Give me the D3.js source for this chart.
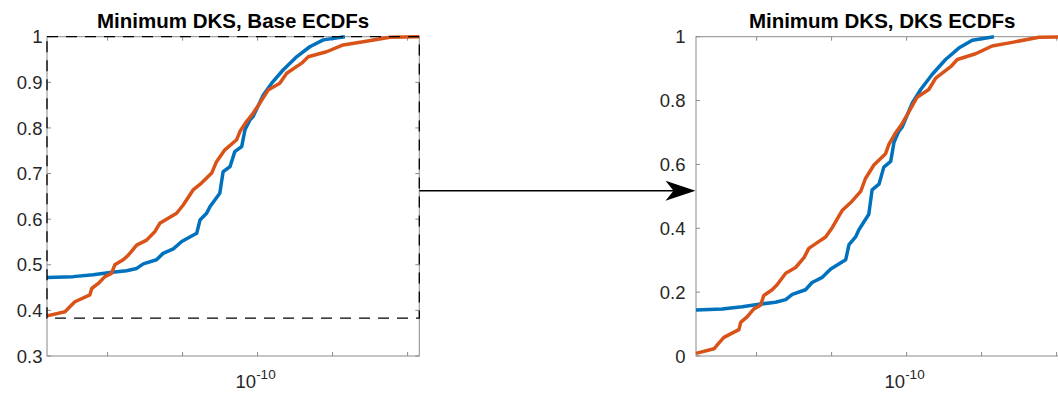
<!DOCTYPE html>
<html>
<head>
<meta charset="utf-8">
<script src="https://cdn.jsdelivr.net/npm/d3@7"></script>
<style>
  body { margin: 0; background: #fff; }
  svg text { font-family: "Liberation Sans", Arial, Helvetica, sans-serif; fill: #262626; }
  .title { font-weight: bold; fill: #000; }
</style>
</head>
<body>
<div id="chart"></div>
<script>
// ECDFs of the minimum DKS statistic, base values
// x is stored as log10 of the statistic
var blueLogX = [-10.702, -10.615, -10.548, -10.492, -10.437, -10.403, -10.381, -10.337,
                -10.315, -10.281, -10.253, -10.203, -10.192, -10.170, -10.159, -10.126,
                -10.115, -10.092, -10.076, -10.053, -10.042, -10.026, -10.015, -9.981,
                -9.953, -9.915, -9.870, -9.826, -9.781, -9.709];
var blueY = [0.472, 0.474, 0.478, 0.483, 0.487, 0.492, 0.502, 0.511,
             0.525, 0.535, 0.551, 0.569, 0.598, 0.613, 0.627, 0.657,
             0.704, 0.715, 0.748, 0.759, 0.796, 0.817, 0.825, 0.872,
             0.898, 0.927, 0.956, 0.978, 0.993, 1.000];
var orangeLogX = [-10.702, -10.642, -10.626, -10.609, -10.559, -10.553, -10.531, -10.509,
                  -10.487, -10.476, -10.448, -10.431, -10.403, -10.370, -10.342, -10.326,
                  -10.298, -10.270, -10.248, -10.215, -10.187, -10.153, -10.137, -10.109,
                  -10.070, -10.059, -10.037, -10.015, -9.992, -9.965, -9.926, -9.903,
                  -9.853, -9.831, -9.770, -9.715, -9.648, -9.559, -9.461];
var orangeY = [0.388, 0.397, 0.408, 0.419, 0.434, 0.448, 0.459, 0.474,
               0.481, 0.500, 0.511, 0.521, 0.543, 0.554, 0.573, 0.591,
               0.602, 0.613, 0.631, 0.664, 0.679, 0.701, 0.726, 0.752,
               0.774, 0.792, 0.814, 0.832, 0.855, 0.883, 0.898, 0.920,
               0.942, 0.956, 0.967, 0.982, 0.989, 0.999, 1.000];

// lowest ECDF level, used to rescale into the DKS ECDFs
var baseLevel = 0.383;

var xLogDomain = [-10.702, -9.461];
var xTickLogs = [-10.5, -10.25, -10, -9.75, -9.5];
var yTicksBase = [0.3, 0.4, 0.5, 0.6, 0.7, 0.8, 0.9, 1];
var yTicksDks = [0, 0.2, 0.4, 0.6, 0.8, 1];

var seriesColors = ["#0072BD", "#D95319"];

var svg = d3.select("#chart").append("svg")
  .attr("width", 1058)
  .attr("height", 393);

var plotW = 372.3, plotH = 319.3;

function toPoints(logs, ys, rescale) {
  return logs.map(function(e, i) {
    var y = ys[i];
    if (rescale) y = (y - baseLevel) / (1 - baseLevel);
    return [Math.pow(10, e), Math.max(0, y)];
  });
}

function drawPanel(left, top, title, yDomain, yTicks, labelGap, rescale, id) {
  var g = svg.append("g").attr("transform", "translate(" + left + "," + top + ")");
  var x = d3.scaleLog()
    .domain(xLogDomain.map(function(e) { return Math.pow(10, e); }))
    .range([0, plotW]);
  var y = d3.scaleLinear().domain(yDomain).range([plotH, 0]);

  g.append("clipPath").attr("id", id)
    .append("rect").attr("x", -2).attr("y", -2).attr("width", plotW + 4).attr("height", plotH + 4);

  // axes box
  g.append("rect")
    .attr("width", plotW).attr("height", plotH)
    .attr("fill", "none").attr("stroke", "#8a8a8a").attr("stroke-width", 1);

  // ticks point inward, mirrored on every side
  yTicks.forEach(function(t) {
    var yy = y(t);
    g.append("line").attr("x1", 0).attr("x2", 4).attr("y1", yy).attr("y2", yy).attr("stroke", "#8a8a8a");
    g.append("line").attr("x1", plotW - 4).attr("x2", plotW).attr("y1", yy).attr("y2", yy).attr("stroke", "#8a8a8a");
    g.append("text")
      .attr("x", -labelGap).attr("y", yy)
      .attr("dy", "0.36em")
      .attr("text-anchor", "end")
      .style("font-size", "18.5px")
      .text(d3.format("~g")(t));
  });
  xTickLogs.forEach(function(e) {
    var xx = x(Math.pow(10, e));
    g.append("line").attr("x1", xx).attr("x2", xx).attr("y1", plotH).attr("y2", plotH - 4).attr("stroke", "#8a8a8a");
    g.append("line").attr("x1", xx).attr("x2", xx).attr("y1", 0).attr("y2", 4).attr("stroke", "#8a8a8a");
  });
  var lab = g.append("text")
    .attr("x", x(1e-10) - 2).attr("y", plotH + 32)
    .attr("text-anchor", "middle")
    .style("font-size", "18.5px");
  lab.append("tspan").text("10");
  lab.append("tspan").attr("dy", -9).style("font-size", "13.5px").text("-10");

  // title
  g.append("text")
    .attr("class", "title")
    .attr("x", plotW / 2).attr("y", -9)
    .attr("text-anchor", "middle")
    .style("font-size", "20.5px")
    .text(title);

  var line = d3.line()
    .x(function(d) { return x(d[0]); })
    .y(function(d) { return y(d[1]); });

  var lines = g.append("g").attr("clip-path", "url(#" + id + ")");
  [[blueLogX, blueY], [orangeLogX, orangeY]].forEach(function(s, i) {
    lines.append("path")
      .datum(toPoints(s[0], s[1], rescale))
      .attr("d", line)
      .attr("fill", "none")
      .attr("stroke", seriesColors[i])
      .attr("stroke-width", 3.5)
      .attr("stroke-linejoin", "round");
  });

  return { g: g, x: x, y: y };
}

var leftPanel = drawPanel(47, 36.7, "Minimum DKS, Base ECDFs", [0.3, 1], yTicksBase, 4.5, false, "clipL");
var rightPanel = drawPanel(696, 36.7, "Minimum DKS, DKS ECDFs", [0, 1], yTicksDks, 10.5, true, "clipR");

// dashed box marking the region that is rescaled
var lx = leftPanel.x, ly = leftPanel.y;
var x0 = lx(Math.pow(10, xLogDomain[0])), x1 = lx(Math.pow(10, xLogDomain[1]));
leftPanel.g.append("rect")
  .attr("x", x0).attr("y", ly(1))
  .attr("width", x1 - x0)
  .attr("height", ly(baseLevel) - ly(1))
  .attr("fill", "none")
  .attr("stroke", "#000")
  .attr("stroke-width", 1.3)
  .attr("stroke-dasharray", "11,8");

// annotation arrow between the two panels
var arrowY = 190.7, arrowX0 = 419.3, arrowX1 = 695.5;
svg.append("line")
  .attr("x1", arrowX0).attr("x2", arrowX1 - 20)
  .attr("y1", arrowY).attr("y2", arrowY)
  .attr("stroke", "#000").attr("stroke-width", 1.6);
svg.append("path")
  .attr("d", "M" + arrowX1 + "," + arrowY +
             " L" + (arrowX1 - 30) + "," + (arrowY - 10) +
             " L" + (arrowX1 - 22) + "," + arrowY +
             " L" + (arrowX1 - 30) + "," + (arrowY + 10) + " Z")
  .attr("fill", "#000");
</script>
</body>
</html>
